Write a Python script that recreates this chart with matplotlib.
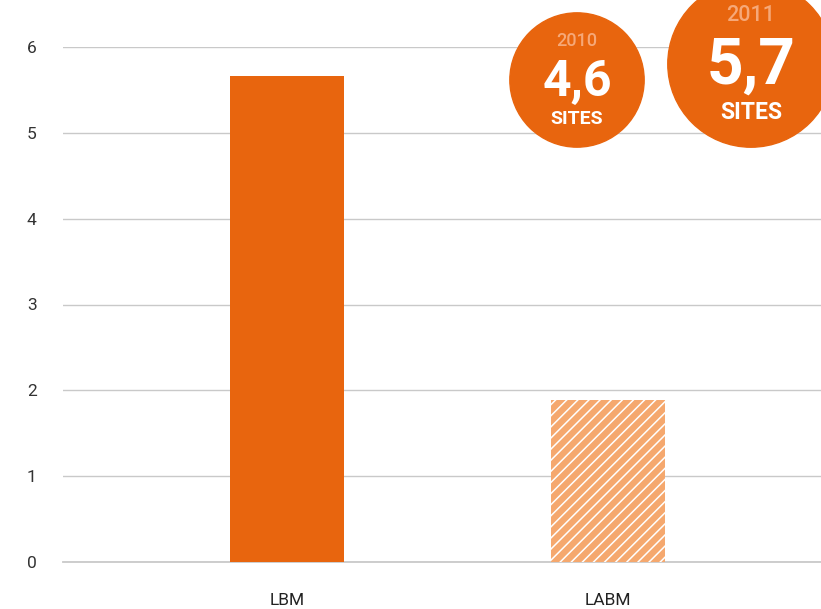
import matplotlib
matplotlib.use("Agg")
import matplotlib.pyplot as plt
from matplotlib.patches import Circle

plt.rcParams['font.family'] = ['Roboto', 'DejaVu Sans']
plt.rcParams['hatch.color'] = 'white'
plt.rcParams['hatch.linewidth'] = 1.1

categories = ["LBM", "LABM"]
values = [5.66, 1.89]
bar_colors = ["#E8650E", "#F5A86E"]
bar_hatches = [None, "///"]
y_ticks = [0, 1, 2, 3, 4, 5, 6]

bubble_years = ["2010", "2011"]
bubble_values = [4.6, 5.7]
bubble_labels = ["4,6", "5,7"]

W, H = 821, 609
fig = plt.figure(figsize=(W / 100, H / 100), dpi=100)

left_px, right_px, bottom_px, top_px = 63, 821, 562, 47
ax = fig.add_axes([left_px / W, 1 - bottom_px / H, (right_px - left_px) / W, (bottom_px - top_px) / H])
ax.set_ylim(0, 6)
ax.set_xlim(-0.698, 1.664)
x = list(range(len(categories)))
for xi, v, c, h in zip(x, values, bar_colors, bar_hatches):
    ax.bar(xi, v, width=0.355, color=c, hatch=h, edgecolor='white' if h else c,
           linewidth=0, zorder=3)
ax.set_yticks(y_ticks)
ax.set_yticklabels([str(t) for t in y_ticks], fontsize=12.5, color='#333333')
ax.set_xticks(x)
ax.set_xticklabels(categories, fontsize=12.5, color='#222222')
ax.tick_params(axis='both', length=0)
ax.tick_params(axis='y', pad=19)
ax.tick_params(axis='x', pad=22)
ax.grid(axis='y', color='#c9c9c9', linewidth=1, zorder=0)
ax.axhline(0, color='#c9c9c9', linewidth=1.3, zorder=2, clip_on=False)
for s in ax.spines.values():
    s.set_visible(False)

ov = fig.add_axes([0, 0, 1, 1], facecolor='none')
ov.set_xlim(0, W)
ov.set_ylim(H, 0)
ov.axis('off')

centers = [(577, 80), (751, 64)]
scale = 14.6
big_fs = [36, 46]
year_fs = [13, 15.5]
sites_fs = [14, 16.5]
for (cx, cy), yr, val, lab, bf, yf, sf in zip(centers, bubble_years, bubble_values, bubble_labels,
                                              big_fs, year_fs, sites_fs):
    r = scale * val
    ov.add_patch(Circle((cx, cy), r, color='#E8650E', zorder=5, clip_on=False))
    k = r / 67.0
    ov.text(cx, cy - 39 * k, yr, color='#F6A878', fontsize=yf, fontweight='medium',
            ha='center', va='center', zorder=6)
    ov.text(cx, cy + 2 * k, lab, color='white', fontsize=bf, fontweight='bold', ha='center', va='center', zorder=6)
    ov.text(cx, cy + 39 * k, "SITES", color='white', fontsize=sf, fontweight='bold',
            ha='center', va='center', zorder=6)

fig.savefig("out.png", dpi=100)
